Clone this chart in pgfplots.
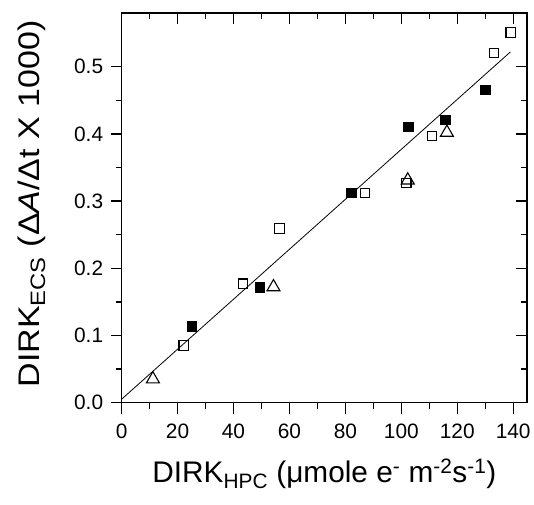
\documentclass[border=0pt]{standalone}
\usepackage{pgfplots}
\pgfplotsset{compat=1.18}
\usepackage{graphicx}
\usepackage{fontspec}
\setmainfont{Liberation Sans}

% open squares, filled squares, triangles
\pgfplotstableread{
x y
139.1 0.551
133.2 0.520
110.9 0.397
101.8 0.327
87.0 0.312
56.5 0.259
43.5 0.177
22.2 0.085
}\opensq
\pgfplotstableread{
x y
130.0 0.466
115.7 0.421
102.4 0.411
82.1 0.312
49.4 0.172
25.1 0.114
}\fillsq
\pgfplotstableread{
x y
116.3 0.402
102.3 0.331
54.3 0.172
11.2 0.035
}\tri

\begin{document}
\begin{tikzpicture}
\pgfplotsset{
  frame/.style={
    scale only axis,
    width=407bp, height=391bp,
    xmin=0, xmax=145, ymin=0, ymax=0.58,
    xtick={0,20,...,140},
    ytick={0,0.1,...,0.5},
    minor x tick num=1,
    minor y tick num=1,
    axis line style={line width=1.6bp},
    major tick length=11bp,
    minor tick length=6bp,
    every tick/.style={black, line width=1.4bp},
  }
}
\begin{axis}[
  frame,
  xtick pos=bottom, ytick pos=left,
  tick align=outside,
  /pgf/number format/assume math mode=true,
  ticklabel style={font=\fontsize{21}{24}\selectfont},
  xticklabel style={yshift=-7bp},
  yticklabel style={xshift=-4bp, /pgf/number format/fixed, /pgf/number format/precision=1, /pgf/number format/fixed zerofill},
  xlabel={DIRK\textsubscript{HPC} (μmole e\textsuperscript{-} m\textsuperscript{-2}s\textsuperscript{-1})},
  ylabel={\scalebox{1.14}[1]{DIRK\textsubscript{ECS} (Δ\textit{A}/Δt X 1000)}},
  xlabel style={font=\fontsize{30}{34}\selectfont, at={(axis description cs:0.5,-0.182)}, anchor=center},
  ylabel style={font=\fontsize{30}{34}\selectfont, at={(axis description cs:-0.222,0.51)}, anchor=center},
]
\addplot[black, line width=0.8bp] coordinates {(0,0.005) (139,0.522)};
\addplot[only marks, mark=square, mark size=4.7bp, mark options={line width=1.1bp}] table {\opensq};
\addplot[only marks, mark=square*, mark size=4.7bp, mark options={fill=black}] table {\fillsq};
\addplot[only marks, mark=triangle, mark size=7.5bp, mark options={line width=1.1bp}] table {\tri};
\coordinate (ll) at (rel axis cs:0,0);
\coordinate (ur) at (rel axis cs:1,1);
\end{axis}
\begin{axis}[
  frame,
  xtick pos=top, ytick pos=right,
  tick align=inside,
  xticklabels={}, yticklabels={},
]
\end{axis}
\path ([shift={(-122bp,-102bp)}]ll) rectangle ([shift={(5bp,13bp)}]ur);
\end{tikzpicture}
\end{document}
